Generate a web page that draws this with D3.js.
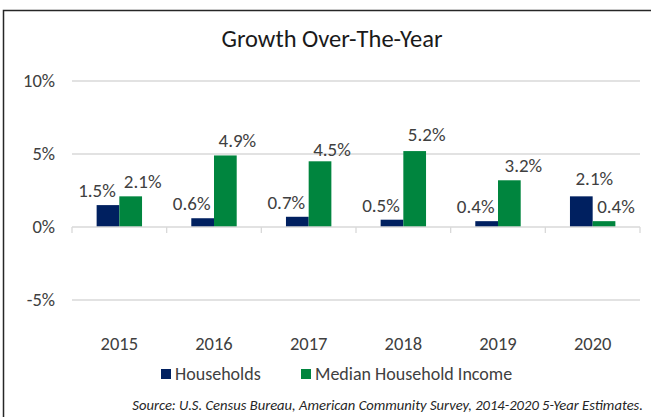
<!DOCTYPE html>
<html>
<head>
<meta charset="utf-8">
<script src="https://cdn.jsdelivr.net/npm/d3@7"></script>
<style>
  body { margin: 0; background: #fff; }
  text { font-family: Carlito, Lato, "Open Sans", sans-serif; }
</style>
</head>
<body>
<svg id="chart" width="651" height="417"></svg>
<script>
// chart data
const years = ["2015", "2016", "2017", "2018", "2019", "2020"];
const seriesNames = ["Households", "Median Household Income"];
const households = [1.5, 0.6, 0.7, 0.5, 0.4, 2.1];
const medianIncome = [2.1, 4.9, 4.5, 5.2, 3.2, 0.4];
const yTicks = [-5, 0, 5, 10];
const colors = ["#002060", "#00853e"];

// label nudges (Excel had a few labels dragged by hand)
const labelNudge = {
  "2017-1": [0, 3],
  "2018-1": [0, -2],
  "2019-1": [2, 0],
  "2020-0": [24, -3]
};

const svg = d3.select("#chart");
const plotLeft = 72, plotRight = 640;

// outer border
svg.append("rect")
  .attr("x", 3.5).attr("y", 10.5)
  .attr("width", 660).attr("height", 420)
  .attr("fill", "none")
  .attr("stroke", "#262626")
  .attr("stroke-width", 1.5);

// title
svg.append("text")
  .attr("x", 332).attr("y", 47)
  .attr("text-anchor", "middle")
  .attr("font-size", 24.5)
  .attr("fill", "#1a1a1a")
  .text("Growth Over-The-Year");

const x = d3.scaleBand().domain(years).range([plotLeft, plotRight]);
const x1 = d3.scaleBand().domain(seriesNames).range([0, x.bandwidth()]).paddingOuter(1.085);
const y = d3.scaleLinear().domain([-5, 10]).range([300, 81]);

// gridlines
svg.append("g")
  .selectAll("line")
  .data(yTicks.filter(d => d !== 0))
  .join("line")
  .attr("x1", plotLeft).attr("x2", plotRight)
  .attr("y1", d => y(d)).attr("y2", d => y(d))
  .attr("stroke", "#d9d9d9")
  .attr("stroke-width", 1.3);

// y tick labels
svg.append("g")
  .selectAll("text")
  .data(yTicks)
  .join("text")
  .attr("x", 55)
  .attr("y", d => y(d))
  .attr("dy", "0.34em")
  .attr("text-anchor", "end")
  .attr("font-size", 18.5)
  .attr("fill", "#404040")
  .text(d => d + "%");

// bars
const rows = years.map((yr, i) => ({ year: yr, values: [households[i], medianIncome[i]] }));

const groups = svg.append("g")
  .selectAll("g")
  .data(rows)
  .join("g")
  .attr("transform", d => `translate(${x(d.year)},0)`);

groups.selectAll("rect")
  .data(d => d.values.map((v, k) => ({ year: d.year, k, v })))
  .join("rect")
  .attr("x", d => x1(seriesNames[d.k]))
  .attr("width", x1.bandwidth())
  .attr("y", d => y(Math.max(0, d.v)))
  .attr("height", d => Math.abs(y(d.v) - y(0)))
  .attr("fill", d => colors[d.k]);

// data labels
groups.selectAll("text")
  .data(d => d.values.map((v, k) => ({ year: d.year, k, v })))
  .join("text")
  .attr("x", d => {
    const n = labelNudge[d.year + "-" + d.k] || [0, 0];
    return x1(seriesNames[d.k]) + x1.bandwidth() / 2 + (d.k === 0 ? -11 : 12) + n[0];
  })
  .attr("y", d => {
    const n = labelNudge[d.year + "-" + d.k] || [0, 0];
    return y(d.v) - 8 + n[1];
  })
  .attr("text-anchor", "middle")
  .attr("font-size", 19)
  .attr("fill", "#404040")
  .text(d => d.v.toFixed(1) + "%");

// zero axis with category ticks
const axis = svg.append("g").attr("transform", `translate(0,${y(0)})`);
axis.append("line")
  .attr("x1", plotLeft).attr("x2", plotRight)
  .attr("stroke", "#d9d9d9").attr("stroke-width", 1.3);
axis.selectAll("line.tick")
  .data(years.map(yr => x(yr)).concat([plotRight]))
  .join("line")
  .attr("class", "tick")
  .attr("x1", d => d).attr("x2", d => d)
  .attr("y1", 0).attr("y2", 6)
  .attr("stroke", "#d9d9d9").attr("stroke-width", 1.3);

// year labels
svg.append("g")
  .selectAll("text")
  .data(years)
  .join("text")
  .attr("x", d => x(d) + x.bandwidth() / 2)
  .attr("y", 350)
  .attr("text-anchor", "middle")
  .attr("font-size", 18.5)
  .attr("fill", "#404040")
  .text(d => d);

// legend
const legendX = [161, 301];
const legend = svg.append("g")
  .selectAll("g")
  .data(seriesNames)
  .join("g")
  .attr("transform", (d, i) => `translate(${legendX[i]},369)`);
legend.append("rect")
  .attr("width", 10).attr("height", 10)
  .attr("fill", (d, i) => colors[i]);
legend.append("text")
  .attr("x", 14).attr("y", 11)
  .attr("font-size", 18)
  .attr("fill", "#404040")
  .text(d => d);

// source note
svg.append("text")
  .attr("x", 643).attr("y", 410)
  .attr("text-anchor", "end")
  .attr("font-size", 14.6)
  .attr("font-style", "italic")
  .attr("fill", "#262626")
  .text("Source: U.S. Census Bureau, American Community Survey, 2014-2020 5-Year Estimates.");
</script>
</body>
</html>
